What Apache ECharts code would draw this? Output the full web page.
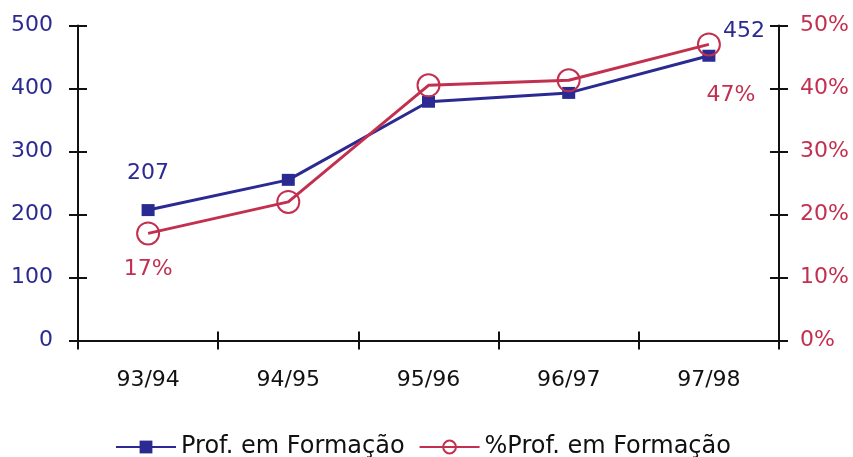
<!DOCTYPE html>
<html>
<head>
<meta charset="utf-8">
<script src="https://cdn.jsdelivr.net/npm/echarts@6/dist/echarts.min.js"></script>
<style>
  html, body { margin: 0; padding: 0; background: #ffffff; }
  #chart { width: 853px; height: 457px; }
</style>
</head>
<body>
<div id="chart"></div>
<script>
// School years on the category axis
const categories = ['93/94', '94/95', '95/96', '96/97', '97/98'];
// Number of teachers in training (left axis)
const profEmFormacao = [207, 255, 379, 393, 452];
// Share of teachers in training, in percent (right axis)
const pctProfEmFormacao = [17, 22, 40.5, 41.3, 47];
// Axis tick values
const leftTicks = { min: 0, max: 500, interval: 100 };
const rightTicks = { min: 0, max: 50, interval: 10 };

const BLUE = '#2a2a92';
const RED = '#c3304f';
const FONT = 'DejaVu Sans';
const TICK = 9; // half-length of the cross ticks

const chart = echarts.init(document.getElementById('chart'), null, { renderer: 'canvas' });

const lineOnly = { show: true, onZero: false, lineStyle: { color: '#111', width: 2 } };
const noLine = { show: false, onZero: false };
// Ticks straddle the axis: the tick-bearing axis is shifted inwards by TICK
// and its ticks point outwards with twice that length.
const crossTick = { show: true, inside: false, length: 2 * TICK, lineStyle: { color: '#111', width: 2 } };

// First and last points carry value labels
const blueData = profEmFormacao.map((v, i) => {
  if (i === 0) return { value: v, label: { show: true, position: 'top', offset: [0, -15] } };
  if (i === profEmFormacao.length - 1) return { value: v, label: { show: true, position: 'top', offset: [35, -2] } };
  return v;
});
const redData = pctProfEmFormacao.map((v, i) => {
  if (i === 0) return { value: v, label: { show: true, position: 'bottom', offset: [0, 8], formatter: v + '%' } };
  if (i === pctProfEmFormacao.length - 1) return { value: v, label: { show: true, position: 'bottom', offset: [22, 23], formatter: v + '%' } };
  return v;
});

chart.setOption({
  backgroundColor: '#ffffff',
  animation: false,
  textStyle: { fontFamily: FONT },
  grid: { left: 78, right: 74, top: 25.5, height: 315, containLabel: false },
  legend: {
    left: 110,
    top: 430,
    itemWidth: 60,
    itemHeight: 16,
    itemGap: 14,
    textStyle: { fontFamily: FONT, fontSize: 24, color: '#111' },
    data: ['Prof. em Formação', '%Prof. em Formação']
  },
  xAxis: [
    {
      type: 'category', data: categories, position: 'bottom', offset: -TICK, boundaryGap: true,
      axisLine: noLine, axisTick: crossTick,
      axisLabel: { color: '#111', fontFamily: FONT, fontSize: 22, margin: 29 + TICK },
      splitLine: { show: false }
    },
    {
      type: 'category', data: categories, position: 'bottom', offset: 0, boundaryGap: true,
      axisLine: lineOnly, axisTick: { show: false },
      axisLabel: { show: false }, splitLine: { show: false }
    }
  ],
  yAxis: [
    {
      type: 'value', position: 'left', offset: -TICK,
      min: leftTicks.min, max: leftTicks.max, interval: leftTicks.interval,
      axisLine: noLine, axisTick: crossTick,
      axisLabel: { color: BLUE, fontFamily: FONT, fontSize: 22, margin: 25 + TICK },
      splitLine: { show: false }
    },
    {
      type: 'value', position: 'right', offset: -TICK,
      min: rightTicks.min, max: rightTicks.max, interval: rightTicks.interval,
      axisLine: noLine, axisTick: crossTick,
      axisLabel: { color: RED, fontFamily: FONT, fontSize: 22, margin: 21 + TICK, formatter: '{value}%' },
      splitLine: { show: false }
    },
    {
      type: 'value', position: 'left', offset: 0,
      min: leftTicks.min, max: leftTicks.max, interval: leftTicks.interval,
      axisLine: lineOnly, axisTick: { show: false },
      axisLabel: { show: false }, splitLine: { show: false }
    },
    {
      type: 'value', position: 'right', offset: 0,
      min: rightTicks.min, max: rightTicks.max, interval: rightTicks.interval,
      axisLine: lineOnly, axisTick: { show: false },
      axisLabel: { show: false }, splitLine: { show: false }
    }
  ],
  series: [
    {
      name: 'Prof. em Formação',
      type: 'line',
      xAxisIndex: 0,
      yAxisIndex: 0,
      data: blueData,
      symbol: 'rect',
      symbolSize: [13, 12],
      itemStyle: { color: BLUE },
      lineStyle: { color: BLUE, width: 3 },
      label: { show: false, color: BLUE, fontFamily: FONT, fontSize: 22 }
    },
    {
      name: '%Prof. em Formação',
      type: 'line',
      xAxisIndex: 0,
      yAxisIndex: 1,
      data: redData,
      symbol: 'circle',
      symbolSize: 22,
      itemStyle: { color: 'rgba(255,255,255,0)', borderColor: RED, borderWidth: 2 },
      lineStyle: { color: RED, width: 3 },
      label: { show: false, color: RED, fontFamily: FONT, fontSize: 22 }
    }
  ]
});
</script>
</body>
</html>
